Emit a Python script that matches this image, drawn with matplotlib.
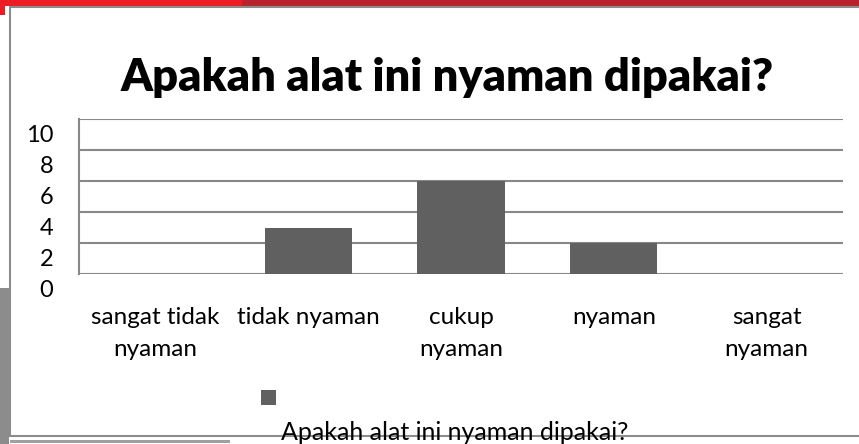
import matplotlib
matplotlib.use('Agg')
import matplotlib.pyplot as plt
import matplotlib.transforms as mtransforms
from matplotlib.patches import Rectangle
import numpy as np

plt.rcParams['font.family'] = ['Lato', 'DejaVu Sans']

title = 'Apakah alat ini nyaman dipakai?'
series_name = 'Apakah alat ini nyaman dipakai?'
categories = ['sangat tidak\nnyaman', 'tidak nyaman', 'cukup\nnyaman',
              'nyaman', 'sangat\nnyaman']
values = [0, 3, 6, 2, 0]
yticks = [0, 2, 4, 6, 8, 10]

W, H = 859, 444
fig = plt.figure(figsize=(W / 100, H / 100), dpi=100)
fig.patch.set_facecolor('white')


def px(x0, y0, w, h):
    # pixel box (top-left origin) -> figure fraction
    return (x0 / W, 1 - (y0 + h) / H), w / W, h / H


# slide decorations around the chart
for (x0, y0, w, h, c) in [(0, 0, 242, 6, '#ED1C24'),
                          (242, 0, 617, 6, '#B8232D'),
                          (0, 6, 5, 9, '#ED1C24'),
                          (0, 288, 9, 156, '#8C8C8C'),
                          (10, 440, 220, 3, '#A0A0A0')]:
    xy, w_, h_ = px(x0, y0, w, h)
    fig.add_artist(Rectangle(xy, w_, h_, transform=fig.transFigure,
                             facecolor=c, edgecolor='none', zorder=0))
xy, w_, h_ = px(10, 7, 860, 429)
fig.add_artist(Rectangle(xy, w_, h_, transform=fig.transFigure,
                         facecolor='white', edgecolor='#8C8C8C',
                         linewidth=1.5, zorder=0.5))

ax = fig.add_axes([79 / W, 1 - 274 / H, 764 / W, 155 / H])
ax.set_zorder(2)
ax.set_facecolor('none')
x = np.arange(len(categories))
ax.bar(x, values, width=0.57, color='#606060', zorder=3)

ax.set_xlim(-0.5, len(categories) - 0.5)
ax.set_ylim(0, 10)
ax.set_yticks(yticks)
ax.set_yticklabels([str(v) for v in yticks], fontsize=17)
ax.yaxis.grid(True, color='#888888', linewidth=1.5, zorder=1)
ax.set_axisbelow(True)
ax.tick_params(axis='y', length=0, pad=18.5)
ax.tick_params(axis='x', length=0, pad=24)
ax.set_xticks(x)
ax.set_xticklabels(categories, fontsize=17.5, linespacing=1.65)

shift = mtransforms.ScaledTranslation(0, -14 / 100, fig.dpi_scale_trans)
for lbl in ax.get_yticklabels():
    lbl.set_transform(lbl.get_transform() + shift)

for side in ['top', 'right', 'bottom']:
    ax.spines[side].set_visible(False)
ax.spines['left'].set_color('#888888')
ax.spines['left'].set_linewidth(1.5)

fig.text(447 / W, 1 - 77 / H, title, ha='center', va='center',
         fontsize=32.5, fontweight='heavy', color='black', zorder=3)

# legend, laid out like the original
xy, w_, h_ = px(261, 390, 15, 15)
fig.add_artist(Rectangle(xy, w_, h_, transform=fig.transFigure,
                         facecolor='#606060', edgecolor='none', zorder=3))
fig.text(455 / W, 1 - 432 / H, series_name, ha='center', va='center',
         fontsize=18, color='black', zorder=3)

plt.savefig('out.png', dpi=100)
plt.close()
